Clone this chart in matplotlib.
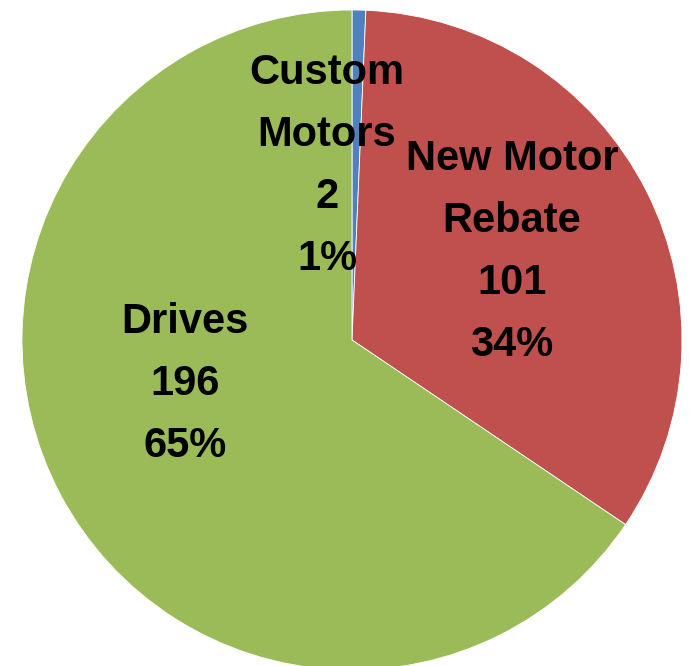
import matplotlib.pyplot as plt

labels = ['Custom\nMotors', 'New Motor\nRebate', 'Drives']
values = [2, 101, 196]
pcts = ['1%', '34%', '65%']
colors = ['#4F81BD', '#C0504D', '#9BBB59']

fig = plt.figure(figsize=(6.89, 6.66), dpi=100)
ax = fig.add_axes([0, 0, 1, 1])
ax.pie(values, colors=colors, startangle=90, counterclock=False,
       center=(352, 326), radius=330,
       wedgeprops=dict(edgecolor='white', linewidth=0.6))
ax.set_xlim(0, 689)
ax.set_ylim(0, 666)
ax.set_aspect('equal')
ax.axis('off')

# label positions in pixel coords (center of text block)
pos = [(327, 666 - 166), (512, 666 - 252), (185, 666 - 384)]
for lab, v, p, (x, y) in zip(labels, values, pcts, pos):
    ax.text(x, y, f'{lab}\n{v}\n{p}', ha='center', va='center',
            fontsize=30, fontweight='bold', linespacing=1.7,
            family=['Liberation Sans Narrow', 'Liberation Sans', 'DejaVu Sans'])

fig.savefig('out.png', dpi=100)
